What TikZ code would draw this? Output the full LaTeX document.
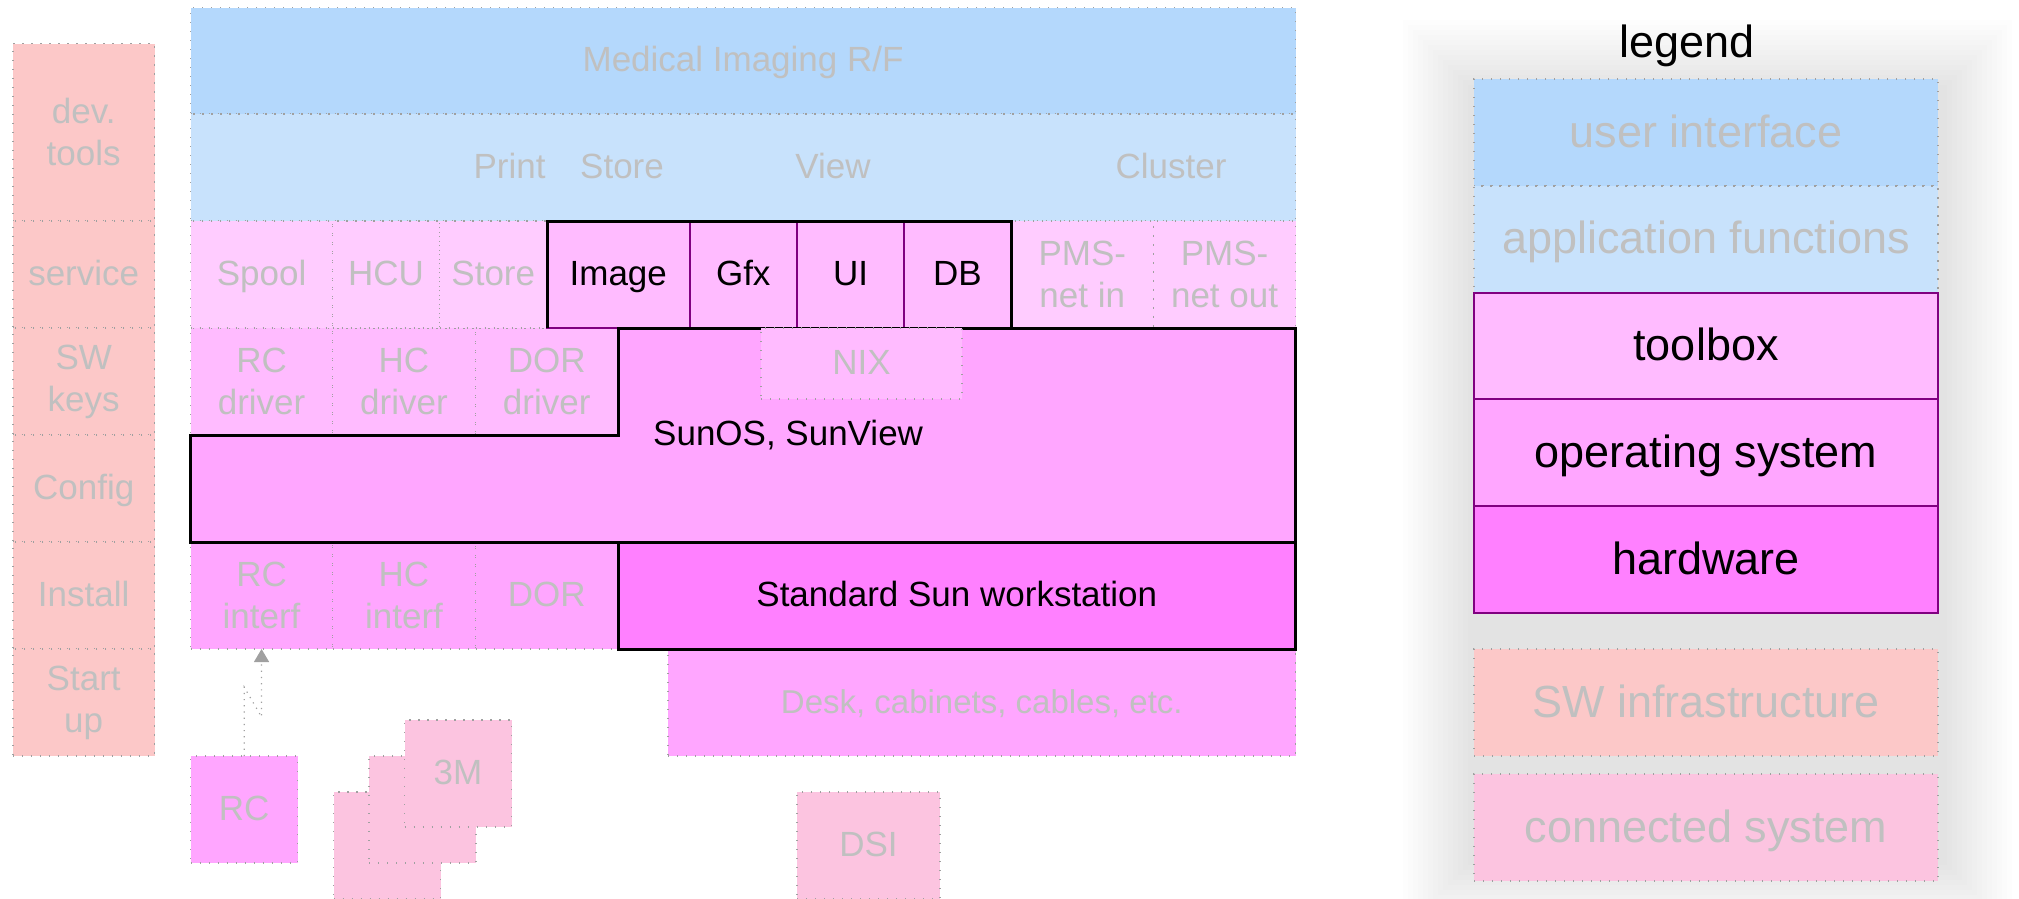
\documentclass[tikz,border=0pt]{standalone}
\usepackage{fontspec}
\setmainfont{Liberation Sans}
\usetikzlibrary{arrows.meta,calc}
\definecolor{uiblue}{HTML}{B4D8FC}
\definecolor{appblue}{HTML}{C8E2FC}
\definecolor{tbox}{HTML}{FFBBFF}
\definecolor{tboxlt}{HTML}{FFCCFF}
\definecolor{oscol}{HTML}{FFA6FF}
\definecolor{hwcol}{HTML}{FF80FF}
\definecolor{swinf}{HTML}{FCC8C8}
\definecolor{conn}{HTML}{FCC4E0}
\definecolor{txtgray}{HTML}{C0C0C0}
\definecolor{dotgray}{HTML}{A0A0A0}
\definecolor{purp}{HTML}{800080}
\newcommand{\fmain}{\fontsize{35}{42}\selectfont}
\newcommand{\fdesk}{\fontsize{33}{40}\selectfont}
\newcommand{\fleg}{\fontsize{45}{54}\selectfont}
\newcommand{\cellbox}[7]{\node[#6, minimum width={#4-#2}, minimum height={#5-#3}] (#1) at ({(#2+#4)/2},{(#3+#5)/2}) {#7};}
\tikzset{
  mtx/.style={inner sep=0pt, outer sep=0pt, font=\fmain, text height=25pt, text depth=3pt},
  twol/.style={inner sep=0pt, outer sep=0pt, font=\fmain, align=center},
  ltx/.style={inner sep=0pt, outer sep=0pt, font=\fleg, text height=32pt, text depth=3pt},
  dotb/.style={draw=dotgray, line width=1.2pt, dash pattern=on 1.2pt off 7.8pt, text=txtgray},
  purpb/.style={draw=purp, line width=2pt, text=black},
  blackb/.style={draw=black, line width=3pt, text=black},
  arr/.style={draw=dotgray, line width=1.2pt, dash pattern=on 1.2pt off 5pt, -{Triangle[width=15pt,length=13pt,fill=dotgray]}}
}
\begin{document}
\begin{tikzpicture}[x=1pt,y=-1pt]
\useasboundingbox (0,0) rectangle (2019,898);
% legend shadow
\foreach \i in {0,...,13}{\fill[black,fill opacity=0.008] ({1403+5*\i},{20+5*\i}) rectangle ({2012-5*\i},{930-5*\i});}
% blue rows
\cellbox{mi}{190.6}{7.5}{1295.6}{114}{mtx,dotb,fill=uiblue}{Medical Imaging R/F}
\cellbox{app}{190.6}{114}{1295.6}{221}{mtx,dotb,fill=appblue}{}
\node[mtx,text=txtgray] (print) at (509.5,167.5) {Print};
\node[mtx,text=txtgray] (astore) at (622,167.5) {Store};
\node[mtx,text=txtgray] (view) at (833,167.5) {View};
\node[mtx,text=txtgray] (cluster) at (1171,167.5) {Cluster};
% driver row
\cellbox{rcdrv}{190.6}{328}{332.5}{435}{twol,dotb,fill=tbox}{RC\\driver}
\cellbox{hcdrv}{332.5}{328}{475.5}{435}{twol,dotb,fill=tbox}{HC\\driver}
\cellbox{dordrv}{475.5}{328}{618}{435}{twol,dotb,fill=tbox}{DOR\\driver}
% toolbox row
\cellbox{spool}{190.6}{221}{332.5}{328}{mtx,dotb,fill=tboxlt}{Spool}
\cellbox{hcu}{332.5}{221}{439.5}{328}{mtx,dotb,fill=tboxlt}{HCU}
\cellbox{tstore}{439.5}{221}{547}{328}{mtx,dotb,fill=tboxlt}{Store}
\cellbox{pmsin}{1011}{221}{1153.5}{328}{twol,dotb,fill=tboxlt}{PMS-\\net in}
\cellbox{pmsout}{1153.5}{221}{1295.6}{328}{twol,dotb,fill=tboxlt}{PMS-\\net out}
\cellbox{img}{547}{221}{689.5}{328}{mtx,purpb,fill=tbox}{Image}
\cellbox{gfx}{689.5}{221}{797}{328}{mtx,purpb,fill=tbox}{Gfx}
\cellbox{ui}{797}{221}{904}{328}{mtx,purpb,fill=tbox}{UI}
\cellbox{db}{904}{221}{1011}{328}{mtx,purpb,fill=tbox}{DB}
% interface row
\cellbox{rcif}{190.6}{542}{332.5}{649}{twol,dotb,fill=oscol}{RC\\interf}
\cellbox{hcif}{332.5}{542}{475.5}{649}{twol,dotb,fill=oscol}{HC\\interf}
\cellbox{dorif}{475.5}{542}{618}{649}{mtx,dotb,fill=oscol}{DOR}
\cellbox{desk}{668}{649}{1295.6}{756}{mtx,dotb,fill=oscol,font=\fdesk}{Desk, cabinets, cables, etc.}
% SunOS
\filldraw[fill=oscol, line width=3pt, line join=miter] (190.6,435) -- (618,435) -- (618,328) -- (1295.6,328) -- (1295.6,542) -- (190.6,542) -- cycle;
\cellbox{sun}{618}{542}{1295.6}{649}{mtx,blackb,fill=hwcol}{Standard Sun workstation}
\cellbox{nix}{761}{328}{962}{399}{mtx,dotb,fill=tbox}{NIX}
\node[font=\fmain, anchor=base west, inner sep=0pt] (sunos) at (653,445) {SunOS, SunView};
\draw[line width=3pt, line join=miter] (img.south west) -- (img.north west) -- (db.north east) -- (db.south east);
% lower boxes
\cellbox{rc}{190.6}{756}{297.7}{863}{mtx,dotb,fill=oscol}{RC}
\cellbox{mfront}{333.5}{792}{440.5}{899}{mtx,dotb,fill=conn}{}
\cellbox{mmid}{369}{756}{476}{863}{mtx,dotb,fill=conn}{}
\cellbox{mback}{404.5}{720}{511.5}{827}{mtx,dotb,fill=conn}{3M}
\cellbox{dsi}{797}{792}{940}{899}{mtx,dotb,fill=conn}{DSI}
\draw[arr] (rc.north) -- ++(0,-69) -- ($(rcif.south)+(0,68)$) -- (rcif.south);
% left column
\cellbox{devtools}{12.9}{43.5}{154.5}{221}{twol,dotb,fill=swinf}{dev.\\tools}
\cellbox{service}{12.9}{221}{154.5}{328}{mtx,dotb,fill=swinf}{service}
\cellbox{swkeys}{12.9}{328}{154.5}{435}{twol,dotb,fill=swinf}{SW\\keys}
\cellbox{config}{12.9}{435}{154.5}{542}{mtx,dotb,fill=swinf}{Config}
\cellbox{install}{12.9}{542}{154.5}{649}{mtx,dotb,fill=swinf}{Install}
\cellbox{startup}{12.9}{649}{154.5}{756}{twol,dotb,fill=swinf}{Start\\up}
% legend
\node[font=\fleg, anchor=base, inner sep=0pt] (legend) at (1687,57) {legend};
\cellbox{lui}{1474}{79}{1938}{186}{ltx,dotb,fill=uiblue}{user interface}
\cellbox{lapp}{1474}{186}{1938}{292.5}{ltx,dotb,fill=appblue}{application functions}
\cellbox{ltb}{1474}{292.5}{1938}{399}{ltx,purpb,fill=tbox}{toolbox}
\cellbox{los}{1474}{399}{1938}{506}{ltx,purpb,fill=oscol}{operating system}
\cellbox{lhw}{1474}{506}{1938}{613}{ltx,purpb,fill=hwcol}{hardware}
\cellbox{lsw}{1474}{649}{1938}{756}{ltx,dotb,fill=swinf}{SW infrastructure}
\cellbox{lconn}{1474}{774}{1938}{881}{ltx,dotb,fill=conn}{connected system}
\end{tikzpicture}
\end{document}
